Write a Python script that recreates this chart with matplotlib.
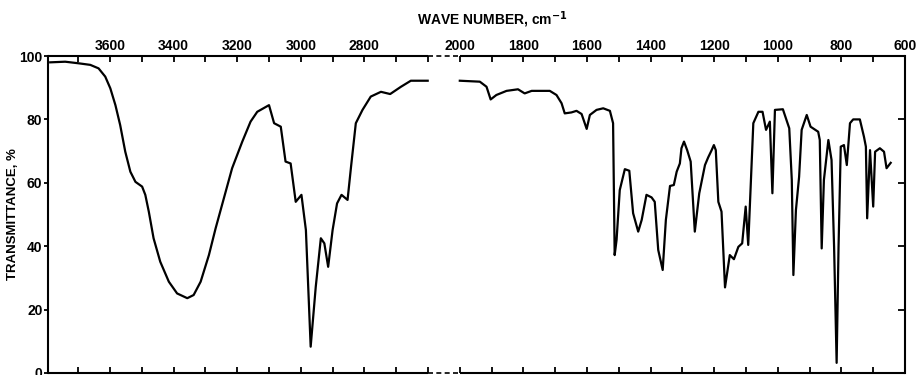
"""IR transmittance spectrum with a broken wavenumber axis (2600 -> 2000 cm-1)."""

import matplotlib

matplotlib.use("Agg")
import matplotlib.pyplot as plt
import numpy as np
from matplotlib.ticker import FixedLocator, FuncFormatter, NullFormatter

plt.rcParams["font.family"] = ["Liberation Sans", "DejaVu Sans"]
plt.rcParams["font.weight"] = "bold"

# high-wavenumber part of the trace (cm-1, %T)
wn_high = [3788, 3741, 3699, 3662, 3636, 3615, 3599, 3583, 3568, 3552, 3536, 3520,
           3499, 3489, 3478, 3463, 3442, 3415, 3389, 3357, 3337, 3315, 3289, 3268,
           3242, 3216, 3184, 3158, 3137, 3100, 3084, 3063, 3048, 3032, 3016, 2998,
           2984, 2969, 2953, 2937, 2926, 2914, 2900, 2886, 2872, 2853, 2842, 2827,
           2806, 2780, 2748, 2719, 2685, 2654, 2601]
t_high = [98.0, 98.2, 97.7, 97.2, 96.1, 93.5, 89.8, 84.5, 78.2, 69.8, 63.5, 60.3,
          58.8, 56.2, 50.9, 42.5, 35.1, 28.8, 25.1, 23.6, 24.6, 28.8, 37.2, 45.6,
          55.1, 64.6, 73.0, 79.3, 82.4, 84.5, 78.8, 77.7, 66.7, 66.1, 54.0, 56.2,
          45.1, 8.3, 27.2, 42.5, 40.9, 33.5, 45.1, 53.5, 56.2, 54.6, 65.1, 78.8,
          83.0, 87.2, 88.7, 88.0, 90.3, 92.2, 92.2]

# low-wavenumber part of the trace
wn_low = [2000, 1937, 1916, 1903, 1885, 1853, 1817, 1796, 1774, 1717, 1696, 1680,
          1670, 1649, 1633, 1617, 1601, 1591, 1570, 1549, 1528, 1518, 1513, 1507,
          1497, 1481, 1467, 1455, 1439, 1428, 1413, 1397, 1387, 1376, 1362, 1352,
          1339, 1327, 1318, 1308, 1303, 1295, 1285, 1274, 1261, 1247, 1229, 1219,
          1208, 1201, 1195, 1187, 1177, 1166, 1151, 1138, 1124, 1112, 1101, 1093,
          1077, 1061, 1048, 1037, 1025, 1017, 1009, 984, 964, 956, 951, 943,
          933, 925, 909, 897, 873, 868, 862, 855, 841, 831, 823, 815,
          809, 802, 792, 783, 773, 763, 742, 729, 723, 719, 710, 700,
          694, 679, 666, 658, 645]
t_low = [92.2, 91.9, 90.3, 86.3, 87.7, 89.0, 89.5, 88.2, 89.0, 89.0, 87.7, 85.1,
         81.9, 82.2, 82.7, 81.7, 77.0, 81.4, 83.0, 83.5, 82.7, 78.8, 37.2, 42.0,
         57.7, 64.3, 63.8, 50.4, 44.6, 48.3, 56.2, 55.4, 54.0, 38.8, 32.5, 48.3,
         59.0, 59.3, 63.5, 66.1, 70.9, 73.0, 70.3, 66.7, 44.6, 56.7, 65.6, 68.0,
         70.3, 71.9, 70.3, 54.0, 50.9, 27.0, 37.2, 35.9, 39.8, 40.9, 52.5, 40.4,
         78.8, 82.4, 82.4, 76.7, 79.3, 56.7, 83.0, 83.2, 77.2, 60.9, 30.9, 51.4,
         61.9, 76.7, 81.4, 77.7, 76.1, 73.5, 39.3, 60.9, 73.5, 67.2, 39.8, 3.2,
         39.8, 71.4, 71.9, 65.6, 78.8, 80.0, 80.0, 74.5, 71.4, 48.8, 70.3, 52.5,
         69.8, 70.9, 69.8, 64.6, 66.3]

major_ticks = [3600, 3400, 3200, 3000, 2800, 2000, 1800, 1600, 1400, 1200, 1000, 800, 600]
minor_ticks = [3700, 3500, 3300, 3100, 2900, 2700, 2600,
               1900, 1700, 1500, 1300, 1100, 900, 700]
y_ticks = [0, 20, 40, 60, 80, 100]

WN_LEFT, WN_RIGHT = 3795, 600
BREAK_HI, BREAK_LO = 2600, 2000
GAP = 100  # width the 2600-2000 gap occupies, in cm-1 of the outer scale
SHIFT = (BREAK_HI - BREAK_LO) - GAP


def fwd(w):
    # increasing map: wavenumber -> position with the 2600-2000 span squeezed
    w = np.asarray(w, dtype=float)
    squeezed = BREAK_LO + SHIFT + (w - BREAK_LO) * GAP / (BREAK_HI - BREAK_LO)
    return np.where(w >= BREAK_HI, w, np.where(w <= BREAK_LO, w + SHIFT, squeezed))


def inv(p):
    p = np.asarray(p, dtype=float)
    p_lo = BREAK_LO + SHIFT
    squeezed = BREAK_LO + (p - p_lo) * (BREAK_HI - BREAK_LO) / GAP
    return np.where(p >= BREAK_HI, p, np.where(p <= p_lo, p - SHIFT, squeezed))


fig = plt.figure(figsize=(9.18, 3.75), dpi=100)
ax = fig.add_axes([48 / 918, 2 / 375, 857 / 918, 317 / 375])
ax.set_xscale("function", functions=(fwd, inv))
ax.set_xlim(WN_LEFT, WN_RIGHT)
ax.set_ylim(0, 100)

ax.plot(wn_high, t_high, color="black", lw=1.6, solid_joinstyle="round")
ax.plot(wn_low, t_low, color="black", lw=1.6, solid_joinstyle="round")

# frame: solid sides, dashed where the scale is broken
for sp in ("top", "bottom"):
    ax.spines[sp].set_visible(False)
for sp in ("left", "right"):
    ax.spines[sp].set_linewidth(1.5)
for yy in (0, 100):
    ax.plot([WN_LEFT, BREAK_HI], [yy, yy], color="black", lw=1.5, clip_on=False,
            solid_capstyle="butt")
    ax.plot([BREAK_LO, WN_RIGHT], [yy, yy], color="black", lw=1.5, clip_on=False,
            solid_capstyle="butt")
    ax.plot([BREAK_HI, BREAK_LO], [yy, yy], color="black", lw=1.2, clip_on=False,
            ls=(0, (3, 2)))

ax.xaxis.set_major_locator(FixedLocator(major_ticks))
ax.xaxis.set_minor_locator(FixedLocator(minor_ticks))
ax.xaxis.set_minor_formatter(NullFormatter())
ax.xaxis.set_major_formatter(FuncFormatter(lambda v, _: f"{v:.0f}"))
ax.tick_params(axis="x", which="both", top=True, bottom=True, labeltop=True,
               labelbottom=False, direction="in", length=4, width=1.3, pad=2,
               labelsize=10)

ax.set_yticks(y_ticks)
ax.tick_params(axis="y", which="major", left=True, right=False, direction="out",
               length=3, width=1.3, pad=1, labelsize=10)

ax_r = ax.twinx()
ax_r.set_ylim(0, 100)
ax_r.set_yticks(y_ticks)
ax_r.tick_params(axis="y", direction="in", length=5, width=1.3, labelright=False)
for sp in ax_r.spines.values():
    sp.set_visible(False)

fig.text(13 / 918, 0.428, "TRANSMITTANCE, %", rotation=90, ha="center", va="center",
         fontsize=9.5, fontweight="bold")
fig.text(0.536, 0.947, "WAVE NUMBER, cm$^{-1}$", ha="center", va="center",
         fontsize=10, fontweight="bold")

fig.savefig("out.png", dpi=100, facecolor="white")
